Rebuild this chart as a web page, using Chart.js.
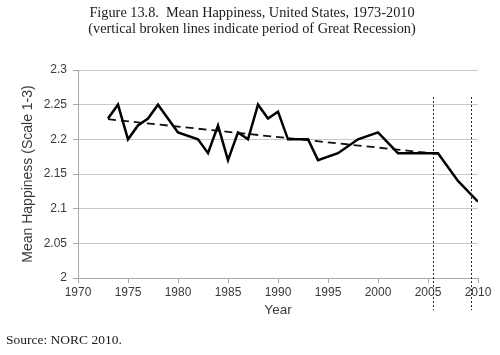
<!DOCTYPE html>
<html>
<head>
<meta charset="utf-8">
<script src="https://cdn.jsdelivr.net/npm/chart.js@4.4.1/dist/chart.umd.min.js"></script>
<style>
html,body{margin:0;padding:0;background:#fff;}
canvas{display:block;}
</style>
</head>
<body>
<canvas id="c" width="500" height="355"></canvas>
<script>
const titleLines = ['Figure 13.8.  Mean Happiness, United States, 1973-2010', '(vertical broken lines indicate period of Great Recession)'];
const sourceText = 'Source: NORC 2010.';
const xAxisTitle = 'Year';
const yAxisTitle = 'Mean Happiness (Scale 1-3)';

const years = [1973,1974,1975,1976,1977,1978,1980,1982,1983,1984,1985,1986,1987,1988,1989,1990,1991,1993,1994,1996,1998,2000,2002,2004,2006,2008,2010];
const happiness = [2.23,2.25,2.20,2.22,2.23,2.25,2.21,2.20,2.18,2.22,2.17,2.21,2.20,2.25,2.23,2.24,2.20,2.20,2.17,2.18,2.20,2.21,2.18,2.18,2.18,2.14,2.11];

const trendYears = [1973, 2006];
const trendValues = [2.229, 2.179];

const recessionYears = [2005.5, 2009.3];
const recessionTop = 2.261;

const xTickLabels = ['1970','1975','1980','1985','1990','1995','2000','2005','2010'];
const yTickLabels = ['2','2.05','2.1','2.15','2.2','2.25','2.3'];

const textPlugin = {
  id: 'texts',
  afterDraw(chart) {
    const ctx = chart.ctx;
    ctx.save();
    ctx.fillStyle = '#1a1a1a';
    ctx.font = '14.3px "Liberation Serif"';
    ctx.textAlign = 'center';
    ctx.textBaseline = 'middle';
    ctx.fillText(titleLines[0], 252, 13);
    ctx.fillText(titleLines[1], 252, 29);
    ctx.textAlign = 'left';
    ctx.font = '13.5px "Liberation Serif"';
    ctx.fillText(sourceText, 6, 340);
    ctx.restore();
  }
};

const recessionPlugin = {
  id: 'recession',
  afterDatasetsDraw(chart) {
    const ctx = chart.ctx;
    const xs = chart.scales.x, ys = chart.scales.y;
    ctx.save();
    ctx.strokeStyle = '#222';
    ctx.lineWidth = 1;
    ctx.setLineDash([2, 2]);
    recessionYears.forEach(yr => {
      const px = Math.round(xs.getPixelForValue(yr)) + 0.5;
      ctx.beginPath();
      ctx.moveTo(px, ys.getPixelForValue(recessionTop));
      ctx.lineTo(px, chart.chartArea.bottom + 32);
      ctx.stroke();
    });
    ctx.restore();
  }
};

const bgPlugin = {
  id: 'bg',
  beforeDraw(chart) {
    const ctx = chart.ctx;
    ctx.save();
    ctx.fillStyle = '#fff';
    ctx.fillRect(0, 0, chart.width, chart.height);
    ctx.restore();
  }
};

new Chart(document.getElementById('c'), {
  type: 'line',
  data: {
    datasets: [
      {
        label: 'Mean happiness',
        data: years.map((y, i) => ({x: y, y: happiness[i]})),
        borderColor: '#000',
        borderWidth: 2.5,
        pointRadius: 0,
        tension: 0,
        fill: false,
        borderJoinStyle: 'miter'
      },
      {
        label: 'Trend',
        data: trendYears.map((y, i) => ({x: y, y: trendValues[i]})),
        borderColor: '#111',
        borderWidth: 1.8,
        borderDash: [8, 5],
        pointRadius: 0,
        tension: 0,
        fill: false
      }
    ]
  },
  options: {
    responsive: false,
    animation: false,
    devicePixelRatio: 1,
    layout: { padding: { top: 70, right: 22, bottom: 37, left: 0 } },
    plugins: {
      legend: { display: false },
      tooltip: { enabled: false },
      title: { display: false }
    },
    scales: {
      x: {
        type: 'linear',
        min: 1970,
        max: 2010,
        ticks: {
          stepSize: 5,
          color: '#3a3a3a',
          font: { family: '"Liberation Sans"', size: 12 },
          padding: 2,
          maxRotation: 0,
          callback: (v, i) => xTickLabels[i]
        },
        grid: { drawOnChartArea: false, drawTicks: true, tickLength: 5, color: '#a8a8a8' },
        border: { color: '#a8a8a8' },
        title: {
          display: true,
          text: xAxisTitle,
          color: '#3a3a3a',
          font: { family: '"Liberation Sans"', size: 13.5 },
          padding: { top: 0, bottom: 0 }
        },
        afterFit(scale) { scale.height = 40; }
      },
      y: {
        min: 2,
        max: 2.3,
        ticks: {
          stepSize: 0.05,
          color: '#3a3a3a',
          font: { family: '"Liberation Sans"', size: 12 },
          padding: 6,
          callback: (v, i) => yTickLabels[i]
        },
        grid: { color: '#c8c8c8', tickLength: 5, tickColor: '#a8a8a8' },
        border: { color: '#a8a8a8' },
        title: {
          display: true,
          text: yAxisTitle,
          color: '#3a3a3a',
          font: { family: '"Liberation Sans"', size: 14 },
          padding: { top: 20, bottom: 0 }
        },
        afterFit(scale) { scale.width = 78; }
      }
    }
  },
  plugins: [bgPlugin, recessionPlugin, textPlugin]
});
</script>
</body>
</html>
